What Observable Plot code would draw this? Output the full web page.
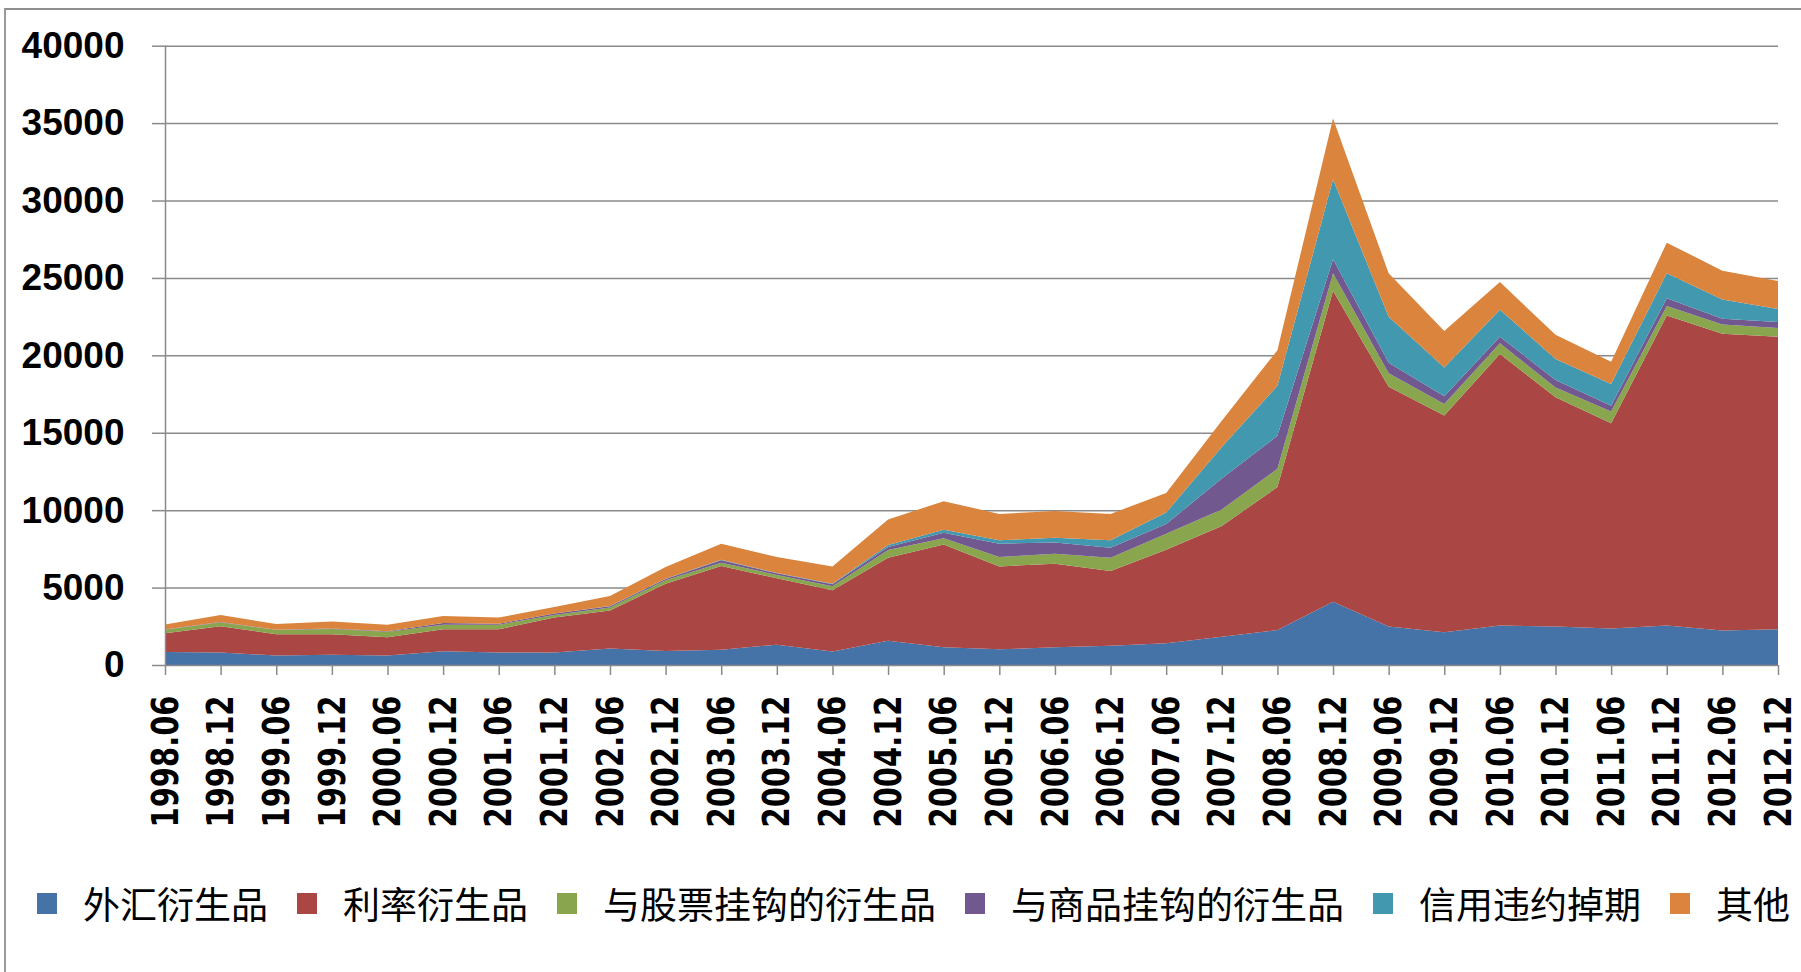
<!DOCTYPE html>
<html><head><meta charset="utf-8">
<script src="https://cdn.jsdelivr.net/npm/d3@7"></script>
<script src="https://cdn.jsdelivr.net/npm/@observablehq/plot@0.6"></script>
<style>
body{margin:0;background:#fff;width:1801px;height:972px;overflow:hidden;position:relative;}
#frame{position:absolute;left:4px;top:8px;right:-10px;bottom:-10px;border-left:2px solid #9a9a9a;border-top:2px solid #8e8e8e;}
#chart{position:absolute;left:0;top:0;width:1801px;}
#legend{position:absolute;left:37px;top:883px;display:flex;align-items:center;height:40px;font-family:"Noto Sans CJK SC";font-size:37px;color:#000;white-space:nowrap;}
.item{display:flex;align-items:center;margin-right:29px;}
.sw{width:20px;height:21px;margin-right:26px;}
#chart svg{max-width:none;}
#chart svg g[aria-label^="x-axis"] text{font-family:"DejaVu Sans";font-weight:bold;font-size:38px;fill:#000;}
#chart svg g[aria-label^="y-axis"] text{font-family:"Liberation Sans";font-weight:bold;font-size:37px;fill:#000;}
#chart svg g[aria-label^="x-axis"] path,#chart svg g[aria-label^="x-axis"] line,
#chart svg g[aria-label^="y-axis"] path,#chart svg g[aria-label^="y-axis"] line{stroke:#8a8a8a;stroke-width:1.5px;}
</style>
</head><body>
<div id="frame"></div>
<div id="chart"></div>
<div id="legend"></div>
<script>
const periods = ["1998.06","1998.12","1999.06","1999.12","2000.06","2000.12","2001.06","2001.12","2002.06","2002.12",
  "2003.06","2003.12","2004.06","2004.12","2005.06","2005.12","2006.06","2006.12","2007.06","2007.12",
  "2008.06","2008.12","2009.06","2009.12","2010.06","2010.12","2011.06","2011.12","2012.06","2012.12"];
const seriesNames = ["外汇衍生品","利率衍生品","与股票挂钩的衍生品","与商品挂钩的衍生品","信用违约掉期","其他"];
const fxDeriv   = [840,810,610,660,610,890,810,810,1070,910,990,1310,880,1570,1140,1010,1140,1240,1400,1820,2260,4090,2480,2110,2550,2480,2360,2550,2230,2310];
const rateDeriv = [1210,1700,1380,1330,1180,1420,1500,2250,2450,4340,5410,4290,3950,5360,6650,5360,5400,4830,6050,7160,9230,20090,15500,14010,17540,14810,13260,20020,19170,18890];
const equityDeriv = [220,240,270,330,350,290,290,170,190,220,210,220,260,500,390,600,650,860,1030,1060,1180,1120,870,740,690,640,750,620,600,570];
const commodityDeriv = [20,20,20,30,40,110,60,90,80,80,150,100,120,190,360,860,730,650,620,2000,2140,910,670,500,420,470,370,490,370,380];
const cdsDeriv = [0,0,0,0,0,0,0,0,20,20,30,30,40,130,190,220,300,470,750,2040,3220,5160,2970,1860,1740,1370,1410,1620,1240,840];
const otherDeriv = [330,460,370,460,420,460,400,430,640,760,1040,1020,1120,1650,1850,1710,1720,1710,1260,1690,2300,3920,2810,2360,1790,1560,1440,1980,1860,1810];
const colors = ["#4572A7","#AA4643","#89A54E","#71588F","#4198AF","#DB843D"];
const yTicks = [0,5000,10000,15000,20000,25000,30000,35000,40000];

const seriesValues = [fxDeriv, rateDeriv, equityDeriv, commodityDeriv, cdsDeriv, otherDeriv];
const rows = seriesNames.flatMap((name, k) => periods.map((p, i) => ({period: p, series: name, value: seriesValues[k][i]})));

const chart = Plot.plot({
  width: 1801, height: 860,
  marginLeft: 165, marginRight: 23, marginTop: 45.7, marginBottom: 195,
  style: {background: "transparent", color: "#000", overflow: "visible"},
  x: {type: "point", domain: periods, padding: 0, round: false, label: null, tickSize: 10, tickPadding: 20, tickRotate: -90},
  y: {domain: [0, 40000], ticks: yTicks, tickFormat: d => String(d), tickSize: 13, tickPadding: 28, label: null},
  color: {domain: seriesNames, range: colors},
  marks: [
    Plot.ruleY(yTicks.filter(d => d > 0), {stroke: "#8a8a8a", strokeWidth: 1.5}),
    Plot.areaY(rows, {x: "period", y: "value", fill: "series", order: null}),
    Plot.ruleY([0], {stroke: "#8a8a8a", strokeWidth: 1.5}),
    Plot.ruleX([periods[0]], {stroke: "#8a8a8a", strokeWidth: 1.5})
  ]
});
document.getElementById("chart").appendChild(chart);
chart.querySelectorAll('g[aria-label^="x-axis"] text').forEach(t => {
  t.setAttribute("textLength", "132");
  t.setAttribute("lengthAdjust", "spacingAndGlyphs");
});

const legend = document.getElementById("legend");
seriesNames.forEach((name, k) => {
  const item = document.createElement("div");
  item.className = "item";
  const sw = document.createElement("div");
  sw.className = "sw";
  sw.style.background = colors[k];
  const tx = document.createElement("span");
  tx.textContent = name;
  item.appendChild(sw); item.appendChild(tx);
  legend.appendChild(item);
});
</script>
</body></html>
